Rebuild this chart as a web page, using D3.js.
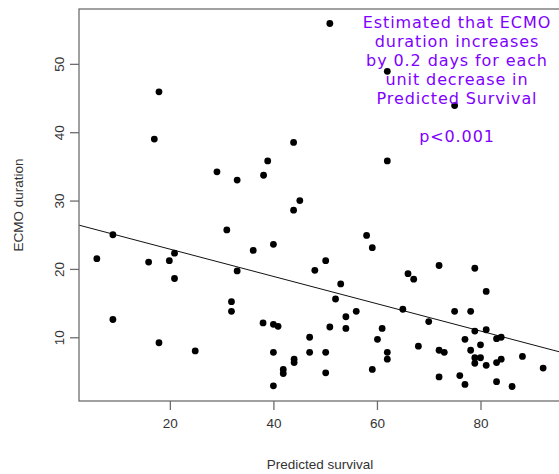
<!DOCTYPE html>
<html>
<head>
<meta charset="utf-8">
<script src="https://cdn.jsdelivr.net/npm/d3@7"></script>
<style>
  body { margin: 0; background: #fff; }
  svg { display: block; }
  text { font-family: "Liberation Sans", Arial, sans-serif; }
</style>
</head>
<body>
<svg width="559" height="474"></svg>
<script>
// predicted survival (x) and ECMO duration in days (y)
var survival = [5.9, 9.0, 9.0, 15.9, 17.0, 17.9, 17.9, 19.9, 20.9, 20.9,
                24.9, 29.1, 31.0, 31.9, 31.9, 33.0, 33.0, 36.1, 38.0, 38.1,
                38.9, 40.0, 40.0, 40.0, 40.0, 40.9, 41.9, 41.9, 43.9, 43.9,
                44.0, 44.0, 45.1, 47.0, 47.0, 48.0, 50.1, 50.1, 50.1, 50.9,
                50.9, 52.0, 53.0, 54.0, 54.0, 56.0, 58.0, 59.1, 59.1, 60.1,
                61.0, 62.0, 62.0, 62.0, 62.0, 65.0, 66.0, 67.1, 68.0, 70.0,
                72.0, 72.0, 72.0, 73.0, 75.0, 75.0, 76.0, 77.0, 77.0, 78.1,
                78.1, 78.9, 78.9, 78.9, 78.9, 80.0, 80.0, 81.1, 81.1, 81.1,
                83.1, 83.1, 83.1, 84.0, 84.0, 86.1, 88.1, 92.1];
var duration = [21.5, 25.0, 12.6, 21.0, 39.0, 45.9, 9.2, 21.2, 22.3, 18.6,
                8.0, 34.2, 25.7, 15.2, 13.8, 33.0, 19.7, 22.7, 12.1, 33.7,
                35.8, 23.6, 11.9, 7.8, 2.9, 11.6, 5.3, 4.7, 38.5, 28.6,
                6.8, 6.3, 30.0, 10.0, 7.8, 19.8, 21.2, 7.8, 4.8, 55.9,
                11.5, 15.6, 17.8, 13.0, 11.3, 13.8, 24.9, 23.1, 5.3, 9.7,
                11.3, 48.9, 35.8, 7.8, 6.8, 14.1, 19.3, 18.5, 8.7, 12.3,
                20.5, 8.1, 4.2, 7.8, 43.9, 13.8, 4.4, 9.7, 3.1, 13.8,
                8.1, 20.1, 10.9, 7.0, 6.2, 8.9, 7.0, 16.7, 11.1, 5.9,
                9.8, 6.3, 3.5, 10.0, 6.8, 2.8, 7.2, 5.5];
var xTicks = [20, 40, 60, 80];
var yTicks = [10, 20, 30, 40, 50];
var noteLines = ['Estimated that ECMO', 'duration increases', 'by 0.2 days for each',
                 'unit decrease in', 'Predicted Survival', '', 'p<0.001'];

var svg = d3.select('svg');
var pLeft = 79, pRight = 561, pTop = 9, pBottom = 401;
var axisCol = '#6e6e6e', labelCol = '#333';

// R style: extend the data range by 4% on each side
function pad(ext) {
  var d = (ext[1] - ext[0]) * 0.04;
  return [ext[0] - d, ext[1] + d];
}
var x = d3.scaleLinear().domain(pad(d3.extent(survival))).range([pLeft, pRight]);
var y = d3.scaleLinear().domain(pad(d3.extent(duration))).range([pBottom, pTop]);

// least squares fit
var mx = d3.mean(survival), my = d3.mean(duration);
var sxy = d3.sum(survival, function(v, i){ return (v - mx) * (duration[i] - my); });
var sxx = d3.sum(survival, function(v){ return (v - mx) * (v - mx); });
var slope = sxy / sxx, icept = my - slope * mx;

svg.append('clipPath').attr('id', 'plotclip').append('rect')
  .attr('x', pLeft).attr('y', pTop).attr('width', pRight - pLeft).attr('height', pBottom - pTop);

var xd = x.domain();
svg.append('line')
  .attr('clip-path', 'url(#plotclip)')
  .attr('x1', x(xd[0])).attr('y1', y(icept + slope * xd[0]))
  .attr('x2', x(xd[1])).attr('y2', y(icept + slope * xd[1]))
  .attr('stroke', '#111').attr('stroke-width', 1);

svg.append('g').selectAll('circle')
  .data(survival)
  .enter().append('circle')
  .attr('cx', function(d){ return x(d); })
  .attr('cy', function(d, i){ return y(duration[i]); })
  .attr('r', 3.4)
  .attr('fill', '#000');

// box
svg.append('rect')
  .attr('x', pLeft).attr('y', pTop).attr('width', pRight - pLeft).attr('height', pBottom - pTop)
  .attr('fill', 'none').attr('stroke', axisCol).attr('stroke-width', 1.3);

var xAxis = svg.append('g').attr('transform', 'translate(0,' + pBottom + ')')
  .call(d3.axisBottom(x).tickValues(xTicks).tickSize(9).tickPadding(8));
var yAxis = svg.append('g').attr('transform', 'translate(' + pLeft + ',0)')
  .call(d3.axisLeft(y).tickValues(yTicks).tickSize(9).tickPadding(9));

[xAxis, yAxis].forEach(function(g){
  g.select('.domain').remove();
  g.selectAll('line').attr('stroke', axisCol).attr('stroke-width', 1.3);
  g.selectAll('text').attr('fill', labelCol).style('font-size', '13.5px')
    .style('font-family', '"Liberation Sans", Arial, sans-serif');
});
yAxis.selectAll('.tick text')
  .attr('text-anchor', 'middle').attr('x', null).attr('dy', null)
  .attr('transform', 'translate(-20,0) rotate(-90)')
  .attr('y', 0).attr('dy', '0.35em');

svg.append('text')
  .attr('x', (pLeft + pRight) / 2).attr('y', 469)
  .attr('text-anchor', 'middle').attr('fill', labelCol).style('font-size', '13.5px')
  .text('Predicted survival');
svg.append('text')
  .attr('transform', 'translate(23,' + ((pTop + pBottom) / 2) + ') rotate(-90)')
  .attr('text-anchor', 'middle').attr('fill', labelCol).style('font-size', '13.5px')
  .text('ECMO duration');

svg.append('g').selectAll('text')
  .data(noteLines)
  .enter().append('text')
  .attr('x', 457)
  .attr('y', function(d, i){ return 28.3 + i * 19; })
  .attr('text-anchor', 'middle')
  .attr('fill', '#8000ff')
  .style('font-family', '"DejaVu Sans", sans-serif')
  .style('font-size', '16px')
  .style('letter-spacing', '0.9px')
  .text(function(d){ return d; });
</script>
</body>
</html>
